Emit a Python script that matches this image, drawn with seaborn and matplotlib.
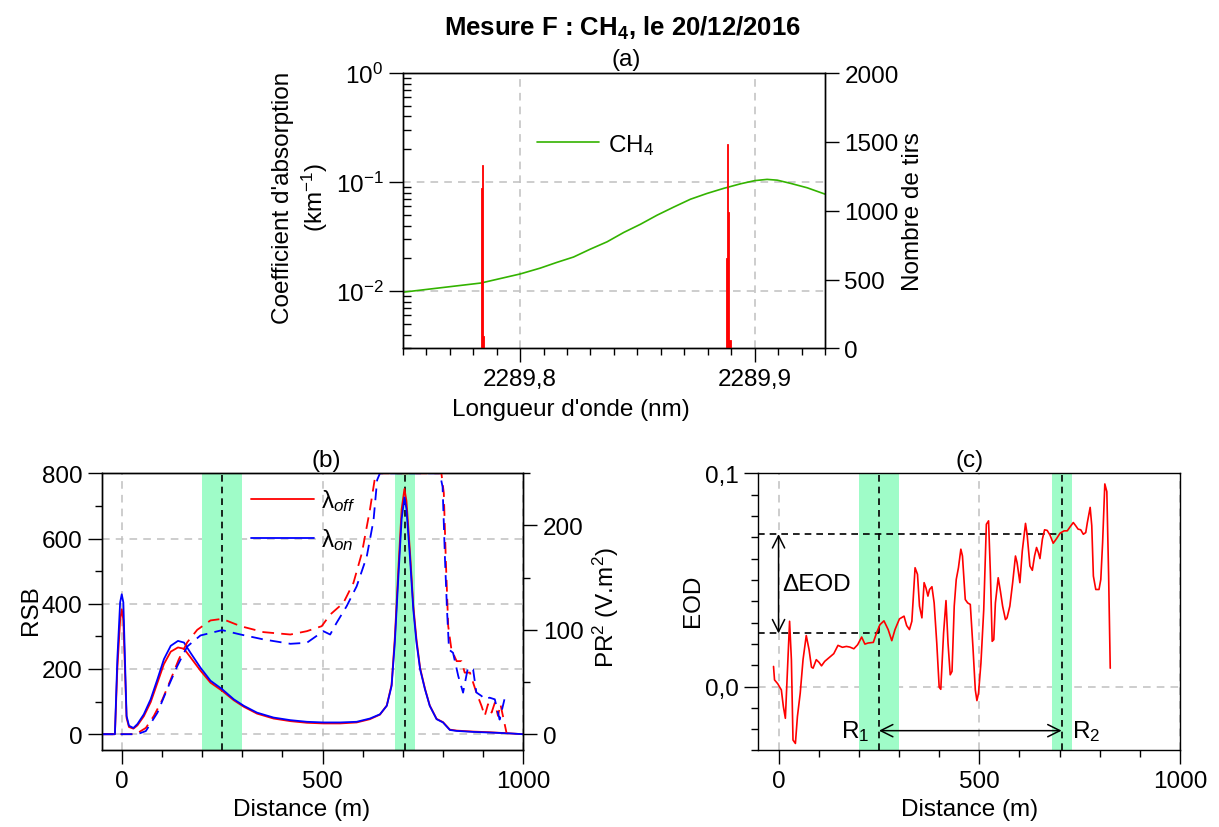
import numpy as np
import pandas as pd
import matplotlib
matplotlib.use("Agg")
import matplotlib.pyplot as plt
import matplotlib.ticker as mticker
import seaborn as sns

# ---- (a) spectre CH4 et histogramme des tirs ----
lambda_nm = [2289.750, 2289.7833, 2289.800, 2289.8086, 2289.8157, 2289.8228, 2289.8299,
             2289.8371, 2289.8442, 2289.8513, 2289.8584, 2289.8655, 2289.8726, 2289.8797,
             2289.8868, 2289.8940, 2289.9001, 2289.9053, 2289.9096, 2289.9153, 2289.9224,
             2289.9302]
ch4_abs = [0.0098, 0.0119, 0.0144, 0.0163, 0.0184, 0.0206, 0.0243,
           0.0284, 0.0346, 0.0411, 0.0498, 0.0591, 0.0697, 0.0788,
           0.0877, 0.0966, 0.1033, 0.106, 0.1043, 0.0975, 0.0888,
           0.0774]
tir_nm = [2289.7835, 2289.7840, 2289.7845, 2289.8880, 2289.8885, 2289.8890, 2289.8895]
tir_n = [1164, 1331, 92, 656, 1483, 988, 60]

# ---- (b) RSB (trait plein) et PR2 (pointillés) ----
dist_rsb = [-50, -17, -11, -4, 0, 4, 8, 12, 18, 29, 39, 55, 72, 89, 105, 122, 140, 155, 171,
            196, 221, 250, 279, 304, 337, 378, 420, 461, 502, 544, 585, 618, 643, 660, 672,
            680, 689, 697, 704, 709, 718, 726, 734, 743, 755, 767, 784, 800, 817, 834, 875,
            916, 958, 999]
rsb_on = [0, 0, 230, 404, 429, 404, 230, 56, 26, 19, 31, 61, 107, 169, 230, 271, 286, 281, 250,
          204, 164, 138, 107, 87, 66, 51, 43, 38, 36, 36, 38, 48, 61, 87, 148,
          281, 486, 660, 726, 690, 537, 383, 281, 199, 138, 87, 46, 36, 13, 10, 7,
          5, 3, 0]
rsb_off = [0, 0, 200, 350, 383, 350, 200, 50, 22, 17, 27, 55, 98, 158, 215, 253, 266, 262, 236,
           195, 158, 133, 104, 84, 63, 48, 40, 35, 33, 33, 36, 46, 60, 88, 152,
           295, 510, 690, 752, 715, 555, 395, 290, 203, 140, 88, 47, 37, 14, 11, 8,
           6, 3, 0]

dist_pr_off = [-50, 30, 39, 60, 80, 101, 122, 142, 163, 188, 221, 250, 296, 353, 420, 461, 498,
               519, 552, 577, 598, 618, 631, 639, 700, 792, 796, 802, 807, 813, 821, 834, 846,
               854, 867, 883, 896, 904, 912, 921, 929, 937, 943, 958]
pr_off = [0, 0, 1, 6, 17.5, 33, 52.5, 71.7, 88, 100, 109, 110.5, 103.5, 97.8, 95.5, 98.7, 103.5,
          114.6, 125.8, 145, 173.6, 215, 246.8, 250, 250, 250, 250, 231, 167, 103.5, 81, 70, 70,
          59, 59, 40, 27, 17.5, 28.7, 20.7, 30, 17.5, 28.7, 1.6]
dist_pr_on = [-50, 39, 60, 89, 113, 138, 163, 196, 250, 296, 353, 420, 461, 502, 519, 535, 560,
              585, 610, 627, 636, 643, 700, 792, 799, 805, 810, 815, 825, 838, 850, 862, 875,
              883, 896, 904, 916, 929, 941, 953]
pr_on = [0, 0, 3, 20.7, 43, 65, 84, 94.6, 99.7, 95.5, 90.8, 86.6, 87.6, 98.7, 95.5, 106.7, 122.6,
         141.7, 170, 205, 243.6, 250, 250, 250, 237, 167, 119, 81, 78, 55.7, 39.8, 63.7, 62,
         40, 36.6, 33.4, 35, 33.4, 14, 33.4]

# ---- (c) EOD ----
dist_eod = [-12.5, -10, -2, 7, 12, 17, 22, 27.5, 32, 36, 42, 47, 54, 61, 69, 76, 82, 86, 94, 101,
            107, 115, 127.5, 137.5, 148, 159, 169, 177.5, 187.5, 197, 207, 215, 223, 236, 244,
            252.5, 262.5, 273, 282, 290, 301, 312.5, 319, 326, 332, 340, 346, 351, 357, 362.5,
            367, 372, 376, 382, 387.5, 394, 400, 404, 411, 417, 422, 427.5, 432, 437.5, 442.5,
            448, 454, 458, 465, 471, 477.5, 484, 490, 494, 498, 504, 511, 517.5, 523, 527.5, 532,
            536, 540, 547, 552.5, 558, 565, 569, 576, 583, 590, 594, 601, 607, 615, 619, 626,
            632, 637.5, 642.5, 647, 651, 657, 662.5, 669, 676, 684, 692.5, 701, 711, 719, 728,
            734, 740, 746, 752.5, 759, 765, 769, 776, 780, 784, 790, 798, 802.5, 807, 812.5,
            817.5, 822, 826]
eod = [0.0094, 0.0031, 0.0013, -0.0016, -0.0094, -0.0149, 0.0063, 0.0306, 0.0126, -0.0251,
       -0.0267, -0.0141, -0.0031, 0.0126, 0.0239, 0.0173, 0.0091, 0.0086, 0.0126, 0.0113,
       0.0097, 0.0118, 0.0138, 0.0154, 0.0193, 0.0184, 0.0188, 0.0185, 0.0177, 0.0196, 0.0232,
       0.0199, 0.0204, 0.0207, 0.0251, 0.0290, 0.0308, 0.0267, 0.0215, 0.0267, 0.0317, 0.0330,
       0.0286, 0.0267, 0.0306, 0.0557, 0.0526, 0.0377, 0.0322, 0.0487, 0.0463, 0.0424, 0.0455,
       0.0468, 0.0392, 0.0204, -0.0003, -0.0013, 0.0251, 0.0403, 0.0204, 0.0055, 0.0071,
       0.0377, 0.0502, 0.0557, 0.0644, 0.0612, 0.0408, 0.0392, 0.0385, 0.0188, -0.0016,
       -0.0066, -0.0031, 0.0110, 0.0361, 0.0761, 0.0777, 0.0534, 0.0212, 0.0220, 0.0392,
       0.0510, 0.0447, 0.0377, 0.0314, 0.0322, 0.0377, 0.0487, 0.0612, 0.0581, 0.0487, 0.0636,
       0.0765, 0.0714, 0.0565, 0.0545, 0.0612, 0.0652, 0.0628, 0.0600, 0.0691, 0.0735, 0.0732,
       0.0710, 0.0672, 0.0694, 0.0719, 0.0730, 0.0730, 0.0754, 0.0769, 0.0754, 0.0738, 0.0735,
       0.0714, 0.0722, 0.0769, 0.0840, 0.0754, 0.0518, 0.0455, 0.0455, 0.0502, 0.0675, 0.0950,
       0.0914, 0.0518, 0.0086]

bands = [(200, 300), (680, 730)]
r1, r2 = 250, 705
eod_r1, eod_r2 = 0.0249, 0.0715

sns.set_style("ticks")
plt.rcParams["font.family"] = ["Liberation Sans", "DejaVu Sans"]
plt.rcParams["mathtext.fontset"] = "custom"
plt.rcParams["mathtext.rm"] = "Liberation Sans"
plt.rcParams["mathtext.it"] = "Liberation Sans:italic"
plt.rcParams["mathtext.bf"] = "Liberation Sans:bold"
for k in ("axes.edgecolor", "xtick.color", "ytick.color", "text.color", "axes.labelcolor"):
    plt.rcParams[k] = "black"
plt.rcParams["axes.linewidth"] = 1.0

FS = 17.5
grid_kw = dict(color="#c0c0c0", ls=(0, (5, 4)), lw=1.1)
dash = (0, (6.5, 4))
comma = mticker.FuncFormatter(lambda v, p: f"{v:.1f}".replace(".", ","))

fig = plt.figure(figsize=(12.19, 8.28), dpi=100)
ax_a = fig.add_axes([0.3304, 0.5781, 0.3464, 0.3325])
ax_b = fig.add_axes([0.0834, 0.0924, 0.3459, 0.3348])
ax_c = fig.add_axes([0.6222, 0.0924, 0.3459, 0.3348])


def style_ticks(ax):
    ax.tick_params(which="major", direction="out", length=10, width=1, labelsize=FS, pad=4)
    ax.tick_params(which="minor", direction="out", length=5, width=1)


# (a)
ax_a.set_yscale("log")
sns.lineplot(x=lambda_nm, y=ch4_abs, ax=ax_a, color="#33b300", lw=1.2, estimator=None)
line_ch4 = ax_a.lines[-1]
ax_a.set_xlim(2289.75, 2289.93)
ax_a.set_ylim(3.0e-3, 1)
ax_a.xaxis.set_major_locator(mticker.MultipleLocator(0.1))
ax_a.xaxis.set_minor_locator(mticker.MultipleLocator(0.01))
ax_a.xaxis.set_major_formatter(comma)
ax_a.yaxis.set_minor_formatter(mticker.NullFormatter())
style_ticks(ax_a)
ax_a.tick_params(axis="y", which="minor", direction="in", length=6)
ax_a.grid(True, which="major", **grid_kw)
ax_a.set_axisbelow(True)
ax_a.set_xlabel("Longueur d'onde (nm)", fontsize=FS)
ax_a.xaxis.set_label_coords(0.3985, -0.18)
ax_a.set_ylabel("Coefficient d'absorption\n(km$^{-1}$)", fontsize=FS, linespacing=1.25)
ax_a.yaxis.set_label_coords(-0.172, 0.55)
ax_a.set_title("(a)", fontsize=FS, x=0.529, pad=5.5)
ax_a.legend(handles=[line_ch4], labels=["CH$_4$"], loc="center left",
            bbox_to_anchor=(0.318, 0.742), frameon=False, fontsize=FS,
            handlelength=2.55, handletextpad=0.35, borderpad=0, borderaxespad=0)

ax_a2 = ax_a.twinx()
tirs = pd.DataFrame({"nm": tir_nm, "n": tir_n})
sns.histplot(data=tirs, x="nm", weights="n", binwidth=0.0005,
             binrange=(2289.78325, 2289.88975), ax=ax_a2, color="red",
             edgecolor="red", linewidth=0.6, alpha=1)
ax_a2.set_ylim(0, 2000)
ax_a2.yaxis.set_major_locator(mticker.MultipleLocator(500))
style_ticks(ax_a2)
ax_a2.set_xlabel("")
ax_a2.set_ylabel("Nombre de tirs", fontsize=FS)
ax_a2.yaxis.set_label_coords(1.182, 0.5)

# (b)
for lo, hi in bands:
    ax_b.axvspan(lo, hi, color="#9ffcc8", lw=0, zorder=0.8)
for xv in (r1, r2):
    ax_b.axvline(xv, color="black", ls=(0, (4, 3)), lw=1.2, zorder=1.5)
sns.lineplot(x=dist_rsb, y=rsb_off, ax=ax_b, color="red", lw=1.3, estimator=None)
sns.lineplot(x=dist_rsb, y=rsb_on, ax=ax_b, color="blue", lw=1.3, estimator=None)
h_off, h_on = ax_b.lines[-2], ax_b.lines[-1]
ax_b.set_xlim(-50, 1000)
ax_b.set_ylim(-50, 800)
ax_b.xaxis.set_major_locator(mticker.MultipleLocator(500))
ax_b.xaxis.set_minor_locator(mticker.MultipleLocator(100))
ax_b.yaxis.set_major_locator(mticker.MultipleLocator(200))
ax_b.yaxis.set_minor_locator(mticker.MultipleLocator(100))
style_ticks(ax_b)
ax_b.grid(True, which="major", **grid_kw)
ax_b.set_axisbelow(True)
ax_b.set_xlabel("Distance (m)", fontsize=FS)
ax_b.xaxis.set_label_coords(0.473, -0.17)
ax_b.set_ylabel("RSB", fontsize=FS)
ax_b.yaxis.set_label_coords(-0.1416, 0.51)
ax_b.set_title("(b)", fontsize=FS, x=0.532, pad=5.5)
ax_b.legend(handles=[h_off, h_on], labels=["λ$_{off}$", "λ$_{on}$"], loc="upper left",
            bbox_to_anchor=(0.354, 0.95), frameon=False, fontsize=FS,
            handlelength=2.6, handletextpad=0.3, borderpad=0, borderaxespad=0,
            labelspacing=0.55)

ax_b2 = ax_b.twinx()
sns.lineplot(x=dist_pr_off, y=pr_off, ax=ax_b2, color="red", lw=1.3, ls=dash, estimator=None)
sns.lineplot(x=dist_pr_on, y=pr_on, ax=ax_b2, color="blue", lw=1.3, ls=dash, estimator=None)
ax_b2.set_ylim(-50 / 3.2, 250)
ax_b2.yaxis.set_major_locator(mticker.MultipleLocator(100))
ax_b2.yaxis.set_minor_locator(mticker.MultipleLocator(50))
style_ticks(ax_b2)
ax_b2.set_ylabel("PR$^2$ (V.m$^2$)", fontsize=FS)
ax_b2.yaxis.set_label_coords(1.16, 0.52)

# (c)
for lo, hi in bands:
    ax_c.axvspan(lo, hi, color="#9ffcc8", lw=0, zorder=0.8)
for xv in (r1, r2):
    ax_c.axvline(xv, color="black", ls=(0, (4, 3)), lw=1.2, zorder=1.5)
ax_c.hlines(eod_r2, -50, r2, color="black", ls=(0, (4, 3)), lw=1.2, zorder=1.5)
ax_c.hlines(eod_r1, -50, r1, color="black", ls=(0, (4, 3)), lw=1.2, zorder=1.5)
sns.lineplot(x=dist_eod, y=eod, ax=ax_c, color="red", lw=1.2, estimator=None)
ax_c.annotate("", xy=(0, eod_r1), xytext=(0, eod_r2),
              arrowprops=dict(arrowstyle="<->", color="black", lw=1.1, mutation_scale=22,
                              shrinkA=0, shrinkB=0))
ax_c.annotate("", xy=(r1, -0.0207), xytext=(r2, -0.0207),
              arrowprops=dict(arrowstyle="<->", color="black", lw=1.1, mutation_scale=22,
                              shrinkA=0, shrinkB=0))
ax_c.text(8, 0.048, "ΔEOD", fontsize=FS, ha="left", va="center")
ax_c.text(225, -0.0235, "R$_1$", fontsize=FS, ha="right", va="baseline")
ax_c.text(732, -0.0235, "R$_2$", fontsize=FS, ha="left", va="baseline")
ax_c.set_xlim(-50, 1000)
ax_c.set_ylim(-0.03, 0.1)
ax_c.xaxis.set_major_locator(mticker.MultipleLocator(500))
ax_c.xaxis.set_minor_locator(mticker.MultipleLocator(100))
ax_c.yaxis.set_major_locator(mticker.MultipleLocator(0.1))
ax_c.yaxis.set_minor_locator(mticker.MultipleLocator(0.01))
ax_c.yaxis.set_major_formatter(comma)
style_ticks(ax_c)
ax_c.grid(True, which="major", **grid_kw)
ax_c.set_axisbelow(True)
ax_c.set_xlabel("Distance (m)", fontsize=FS)
ax_c.xaxis.set_label_coords(0.4996, -0.17)
ax_c.set_ylabel("EOD", fontsize=FS)
ax_c.yaxis.set_label_coords(-0.129, 0.545)
ax_c.set_title("(c)", fontsize=FS, pad=5.5)

fig.text(0.5103, 0.9565, r"Mesure F : CH$_\mathbf{4}$, le 20/12/2016", fontsize=18.5,
         fontweight="bold", ha="center", va="baseline")

fig.savefig("out.png", dpi=100)
